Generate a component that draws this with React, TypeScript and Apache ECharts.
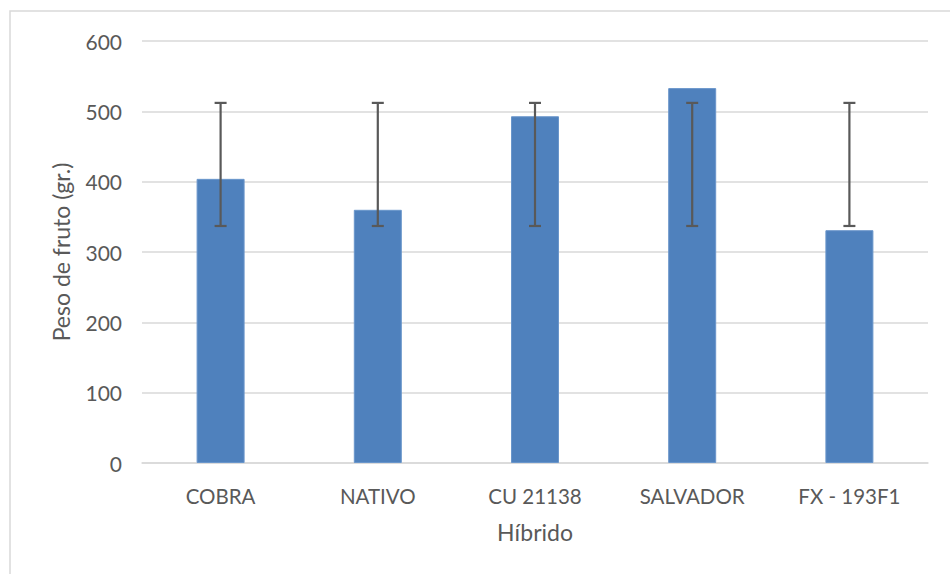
import React, { useEffect, useRef } from "react";
import * as echarts from "echarts";

const categories = ["COBRA", "NATIVO", "CU 21138", "SALVADOR", "FX - 193F1"];
const pesoFruto = [404, 360, 493, 533, 331];
const errLow = [337, 337, 337, 337, 337];
const errHigh = [512, 512, 512, 512, 512];
const yTicks = { min: 0, max: 600, interval: 100 };

const FONT = "Lato";
const TEXT = "#595959";
const GRID = "#d9d9d9";

export default function App() {
  const ref = useRef<HTMLDivElement>(null);
  useEffect(() => {
    if (!ref.current) return;
    const chart = echarts.init(ref.current, null, { renderer: "svg" });
    const errData = categories.map((_, i) => [i, errLow[i], errHigh[i]]);
    chart.setOption({
      animation: false,
      backgroundColor: "#ffffff",
      textStyle: { fontFamily: FONT },
      graphic: [
        {
          type: "rect",
          shape: { x: 10, y: 11, width: 980, height: 620 },
          style: { fill: "none", stroke: GRID, lineWidth: 1.5 },
          silent: true,
          z: -1,
        },
      ],
      grid: { left: 142, right: 22, top: 41, bottom: 111 },
      xAxis: {
        type: "category",
        data: categories,
        name: "Híbrido",
        nameLocation: "middle",
        nameGap: 57,
        nameTextStyle: { color: TEXT, fontSize: 23, fontFamily: FONT },
        axisLine: { show: true, lineStyle: { color: GRID, width: 1.5 } },
        axisTick: { show: false },
        axisLabel: { color: TEXT, fontSize: 20.5, fontFamily: FONT, margin: 22 },
      },
      yAxis: {
        type: "value",
        min: yTicks.min,
        max: yTicks.max,
        interval: yTicks.interval,
        name: "Peso de fruto (gr.)",
        nameLocation: "middle",
        nameGap: 70,
        nameTextStyle: { color: TEXT, fontSize: 23, fontFamily: FONT },
        axisLine: { show: false },
        axisTick: { show: false },
        axisLabel: { color: TEXT, fontSize: 21, fontFamily: FONT, margin: 20 },
        splitLine: { lineStyle: { color: GRID, width: 1.5 } },
      },
      series: [
        {
          type: "bar",
          data: pesoFruto,
          barWidth: 48,
          itemStyle: { color: "#4f81bd", borderColor: "#6a96cb", borderWidth: 1 },
        },
        {
          type: "custom",
          data: errData,
          z: 10,
          renderItem: (params: any, api: any) => {
            const x = api.value(0);
            const lo = api.coord([x, api.value(1)]);
            const hi = api.coord([x, api.value(2)]);
            const hw = 6;
            const style = { stroke: "#595959", lineWidth: 2.2 };
            return {
              type: "group",
              children: [
                { type: "line", shape: { x1: lo[0], y1: lo[1], x2: hi[0], y2: hi[1] }, style },
                { type: "line", shape: { x1: lo[0] - hw, y1: lo[1], x2: lo[0] + hw, y2: lo[1] }, style },
                { type: "line", shape: { x1: hi[0] - hw, y1: hi[1], x2: hi[0] + hw, y2: hi[1] }, style },
              ],
            };
          },
        },
      ],
    });
    return () => chart.dispose();
  }, []);
  return (
    <div
      ref={ref}
      style={{ position: "fixed", left: 0, top: 0, width: 950, height: 574 }}
    />
  );
}
